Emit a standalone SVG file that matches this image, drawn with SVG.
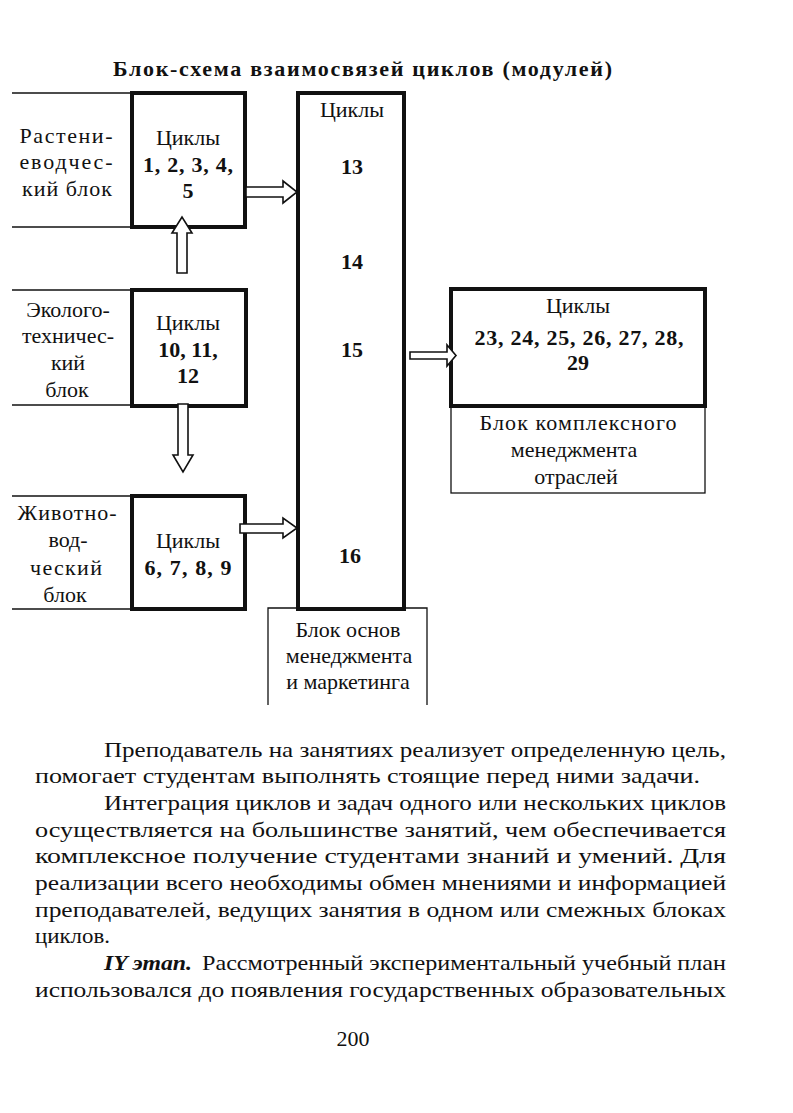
<svg xmlns="http://www.w3.org/2000/svg" width="793" height="1113" viewBox="0 0 793 1113">
<style>
text{font-family:"Liberation Serif","Times New Roman",serif;fill:#111;font-size:22px}
.c{text-anchor:middle}
.b{font-weight:bold}
.thick{fill:none;stroke:#111;stroke-width:4}
.thin{fill:none;stroke:#111;stroke-width:1.3}
.arr{fill:#fff;stroke:#111;stroke-width:1.6;stroke-linejoin:miter}
.body{font-size:22px}
</style>
<rect width="793" height="1113" fill="#fff"/>
<text id="title" class="b" x="113" y="76" font-size="22" textLength="499" lengthAdjust="spacing">Блок-схема взаимосвязей циклов (модулей)</text>

<g id="plant">
<line class="thin" x1="12" y1="93" x2="132" y2="93"/>
<line class="thin" x1="12" y1="227" x2="132" y2="227"/>
<text class="c" x="66" y="143" textLength="93" lengthAdjust="spacing">Растени-</text>
<text class="c" x="66" y="169" textLength="93" lengthAdjust="spacing">еводчес-</text>
<text class="c" x="67" y="196" textLength="90" lengthAdjust="spacing">кий блок</text>
<rect class="thick" x="132" y="93" width="113" height="134"/>
<text class="c" x="188" y="145">Циклы</text>
<text class="c b" x="188" y="172" textLength="90" lengthAdjust="spacing">1, 2, 3, 4,</text>
<text class="c b" x="188" y="198">5</text>
</g>

<g id="eco">
<line class="thin" x1="12" y1="290" x2="132" y2="290"/>
<line class="thin" x1="12" y1="405" x2="132" y2="405"/>
<text class="c" x="68" y="317">Эколого-</text>
<text class="c" x="68" y="343">техничес-</text>
<text class="c" x="68" y="370">кий</text>
<text class="c" x="67" y="397">блок</text>
<rect class="thick" x="132" y="290" width="114" height="116"/>
<text class="c" x="188" y="330">Циклы</text>
<text class="c b" x="188" y="357">10, 11,</text>
<text class="c b" x="188" y="383">12</text>
</g>

<g id="animal">
<line class="thin" x1="12" y1="496" x2="132" y2="496"/>
<line class="thin" x1="12" y1="609" x2="132" y2="609"/>
<text class="c" x="67" y="520" textLength="99" lengthAdjust="spacing">Животно-</text>
<text class="c" x="68" y="547">вод-</text>
<text class="c" x="66" y="575" textLength="72" lengthAdjust="spacing">ческий</text>
<text class="c" x="65" y="602">блок</text>
<rect class="thick" x="132" y="496" width="113" height="113"/>
<text class="c" x="188" y="548">Циклы</text>
<text class="c b" x="188" y="575" textLength="87" lengthAdjust="spacing">6, 7, 8, 9</text>
</g>

<g id="base">
<path class="thin" d="M268,705 V608 H427 V705"/>
<text class="c" x="348" y="637">Блок основ</text>
<text class="c" x="349" y="663">менеджмента</text>
<text class="c" x="348" y="689">и маркетинга</text>
</g>

<g id="central">
<rect class="thick" x="298" y="93" width="106" height="516"/>
<text class="c" x="352" y="117">Циклы</text>
<text class="c b" x="352" y="174">13</text>
<text class="c b" x="352" y="269">14</text>
<text class="c b" x="352" y="357">15</text>
<text class="c b" x="350" y="563">16</text>
</g>

<g id="complex">
<rect class="thin" x="451" y="406" width="254" height="87"/>
<rect class="thick" x="451" y="289" width="254" height="117"/>
<text class="c" x="578" y="313">Циклы</text>
<text class="c b" x="579" y="345" textLength="209" lengthAdjust="spacing">23, 24, 25, 26, 27, 28,</text>
<text class="c b" x="578" y="370">29</text>
<text class="c" x="578" y="430" textLength="197" lengthAdjust="spacing">Блок комплексного</text>
<text class="c" x="574" y="457">менеджмента</text>
<text class="c" x="576" y="484">отраслей</text>
</g>

<g id="connectors">
<polygon class="arr" points="246,187 283,187 283,181 297,192 283,203 283,197 246,197"/>
<polygon class="arr" points="177,273 187,273 187,233 192,233 182,217 172,233 177,233"/>
<polygon class="arr" points="178,404 188,404 188,455 193,455 183,472 173,455 178,455"/>
<polygon class="arr" points="240,524 283,524 283,518 297,528 283,538 283,533 240,533"/>
<polygon class="arr" points="410,352 447,352 447,345 456,355.5 447,366 447,359 410,359"/>
</g>

<g id="bodytext">
<text class="body" x="104" y="757" textLength="622" lengthAdjust="spacingAndGlyphs">Преподаватель на занятиях реализует определенную цель,</text>
<text class="body" x="35" y="783" textLength="665" lengthAdjust="spacingAndGlyphs">помогает студентам выполнять стоящие перед ними задачи.</text>
<text class="body" x="104" y="810" textLength="622" lengthAdjust="spacingAndGlyphs">Интеграция циклов и задач одного или нескольких циклов</text>
<text class="body" x="35" y="837" textLength="691" lengthAdjust="spacingAndGlyphs">осуществляется на большинстве занятий, чем обеспечивается</text>
<text class="body" x="35" y="863" textLength="691" lengthAdjust="spacingAndGlyphs">комплексное получение студентами знаний и умений. Для</text>
<text class="body" x="35" y="890" textLength="691" lengthAdjust="spacingAndGlyphs">реализации всего необходимы обмен мнениями и информацией</text>
<text class="body" x="35" y="917" textLength="691" lengthAdjust="spacingAndGlyphs">преподавателей, ведущих занятия в одном или смежных блоках</text>
<text class="body" x="35" y="943" textLength="75" lengthAdjust="spacingAndGlyphs">циклов.</text>
<text class="body b" x="104" y="970" font-style="italic" textLength="88" lengthAdjust="spacingAndGlyphs">IY этап.</text>
<text class="body" x="202" y="970" textLength="524" lengthAdjust="spacingAndGlyphs">Рассмотренный экспериментальный учебный план</text>
<text class="body" x="35" y="997" textLength="691" lengthAdjust="spacingAndGlyphs">использовался до появления государственных образовательных</text>
<text class="body c" x="353" y="1046">200</text>
</g>
</svg>
